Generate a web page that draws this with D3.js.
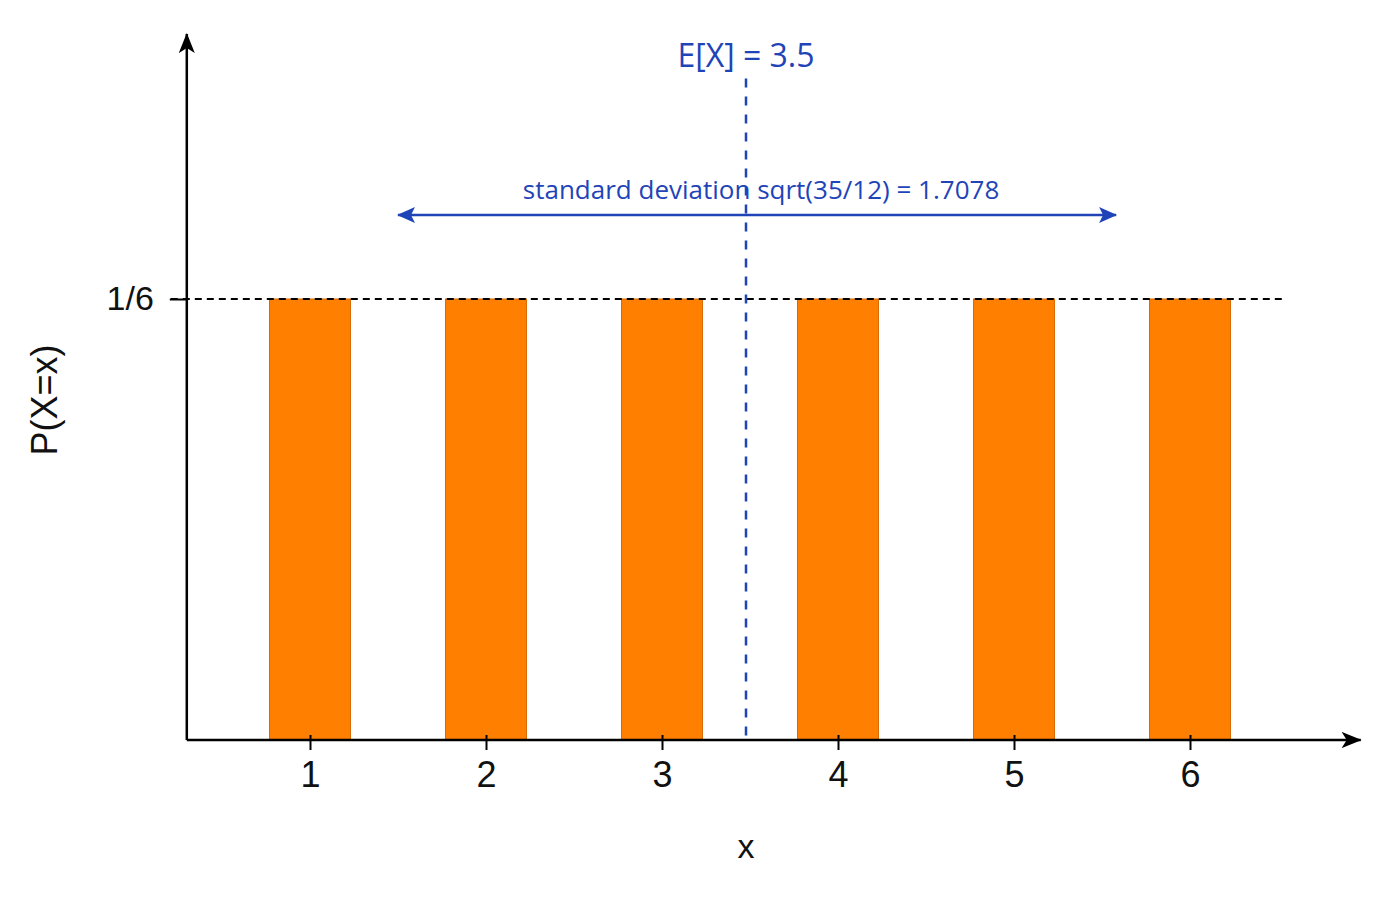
<!DOCTYPE html>
<html>
<head>
<meta charset="utf-8">
<script src="https://cdn.jsdelivr.net/npm/d3@7"></script>
<style>
  body { margin: 0; background: #fff; }
</style>
</head>
<body>
<div id="chart"></div>
<script>
// Data for a fair die
const faces = [1, 2, 3, 4, 5, 6];
const probs = [1/6, 1/6, 1/6, 1/6, 1/6, 1/6];
const yTicks = [1/6];
const yTickLabels = ["1/6"];
const meanValue = 3.5;
const sdArrow = [1.5, 5.58];   // drawn extent of the std-dev arrow (x units)
const meanLabel = "E[X] = 3.5";
const sdLabel = "standard deviation sqrt(35/12) = 1.7078";

const W = 1400, H = 900;
const blue = "#1f44b8";
const orange = "#ff7f00";

const svg = d3.select("#chart")
    .append("svg")
    .attr("width", W)
    .attr("height", H);

// scales
const x = d3.scaleLinear().domain([1, 6]).range([310, 1190]);
const y = d3.scaleLinear().domain([0, 1/6]).range([740, 299]);

const xMin = 0.3, xMax = 6.97;   // axis extent
const yMax = 0.2668;

// arrow markers
const defs = svg.append("defs");
defs.append("marker")
    .attr("id", "arrBlack")
    .attr("viewBox", "0 0 20 16")
    .attr("refX", 19).attr("refY", 8)
    .attr("markerWidth", 20).attr("markerHeight", 16)
    .attr("markerUnits", "userSpaceOnUse")
    .attr("orient", "auto")
    .append("path").attr("d", "M0,0 L20,8 L0,16 L5,8 Z").attr("fill", "#000");

defs.append("marker")
    .attr("id", "arrBlue")
    .attr("viewBox", "0 0 18 16")
    .attr("refX", 17).attr("refY", 8)
    .attr("markerWidth", 18).attr("markerHeight", 16)
    .attr("markerUnits", "userSpaceOnUse")
    .attr("orient", "auto-start-reverse")
    .append("path").attr("d", "M0,0 L18,8 L0,16 L4,8 Z").attr("fill", blue);

// bars
const bw = 0.46; // bar width in x units
svg.selectAll(".bar")
    .data(faces)
    .enter().append("rect")
    .attr("class", "bar")
    .attr("x", d => x(d - bw / 2))
    .attr("y", (d, i) => y(probs[i]))
    .attr("width", x(1 + bw) - x(1))
    .attr("height", (d, i) => y(0) - y(probs[i]))
    .attr("fill", orange)
    .attr("stroke", "#d86a00")
    .attr("stroke-width", 1);

// 1/6 dashed reference line
svg.append("line")
    .attr("x1", x(xMin) - 16).attr("x2", x(6.54))
    .attr("y1", y(yTicks[0])).attr("y2", y(yTicks[0]))
    .attr("stroke", "#000")
    .attr("stroke-width", 1.8)
    .attr("stroke-dasharray", "7,5");

// x axis
const xAxis = svg.append("g")
    .attr("transform", "translate(0," + y(0) + ")")
    .call(d3.axisBottom(x).tickValues(faces).tickFormat(d3.format("d")).tickSizeInner(10).tickSizeOuter(0));
xAxis.select(".domain").remove();
xAxis.selectAll(".tick line").attr("y1", -5).attr("y2", 10).attr("stroke-width", 2);
xAxis.selectAll(".tick text")
    .attr("y", 21)
    .attr("dy", "0.71em")
    .style("font-family", "Liberation Sans, Arial, sans-serif")
    .style("font-size", "36px")
    .attr("fill", "#111");

svg.append("line")
    .attr("x1", x(xMin)).attr("x2", x(xMax))
    .attr("y1", y(0)).attr("y2", y(0))
    .attr("stroke", "#000").attr("stroke-width", 2.5)
    .attr("marker-end", "url(#arrBlack)");

// y axis
const yAxis = svg.append("g")
    .attr("transform", "translate(" + x(xMin) + ",0)")
    .call(d3.axisLeft(y).tickValues(yTicks).tickFormat((d, i) => yTickLabels[i]).tickSizeInner(17).tickSizeOuter(0));
yAxis.select(".domain").remove();
yAxis.selectAll(".tick line").attr("stroke-width", 2);
yAxis.selectAll(".tick text")
    .attr("x", -33)
    .style("font-family", "Liberation Sans, Arial, sans-serif")
    .style("font-size", "34px")
    .attr("fill", "#111");

svg.append("line")
    .attr("x1", x(xMin)).attr("x2", x(xMin))
    .attr("y1", y(0)).attr("y2", y(yMax))
    .attr("stroke", "#000").attr("stroke-width", 2.5)
    .attr("marker-end", "url(#arrBlack)");

// axis labels
svg.append("text")
    .attr("x", x(meanValue) - 4)
    .attr("y", 858)
    .attr("text-anchor", "middle")
    .style("font-family", "Liberation Sans, Arial, sans-serif")
    .style("font-size", "34px")
    .attr("fill", "#111")
    .text("x");

svg.append("text")
    .attr("transform", "translate(57," + y(0.1285) + ") rotate(-90)")
    .attr("text-anchor", "middle")
    .style("font-family", "Liberation Sans, Arial, sans-serif")
    .style("font-size", "36px")
    .attr("fill", "#111")
    .text("P(X=x)");

// mean line
const meanTop = 0.25;
svg.append("line")
    .attr("x1", x(meanValue) - 4).attr("x2", x(meanValue) - 4)
    .attr("y1", y(meanTop)).attr("y2", y(0))
    .attr("stroke", blue)
    .attr("stroke-width", 2.5)
    .attr("stroke-dasharray", "9,9");

svg.append("text")
    .attr("x", x(meanValue) - 4)
    .attr("y", y(meanTop) - 12)
    .attr("text-anchor", "middle")
    .style("font-family", "Open Sans, Noto Sans, sans-serif")
    .style("font-size", "32px")
    .attr("fill", blue)
    .text(meanLabel);

// standard deviation arrow
const sdY = 0.1984;
svg.append("line")
    .attr("x1", x(sdArrow[0])).attr("x2", x(sdArrow[1]))
    .attr("y1", y(sdY)).attr("y2", y(sdY))
    .attr("stroke", blue)
    .attr("stroke-width", 2.5)
    .attr("marker-start", "url(#arrBlue)")
    .attr("marker-end", "url(#arrBlue)");

svg.append("text")
    .attr("x", (x(sdArrow[0]) + x(sdArrow[1])) / 2 + 4)
    .attr("y", y(sdY) - 16)
    .attr("text-anchor", "middle")
    .style("font-family", "Open Sans, Noto Sans, sans-serif")
    .style("font-size", "26px")
    .attr("fill", blue)
    .text(sdLabel);
</script>
</body>
</html>
